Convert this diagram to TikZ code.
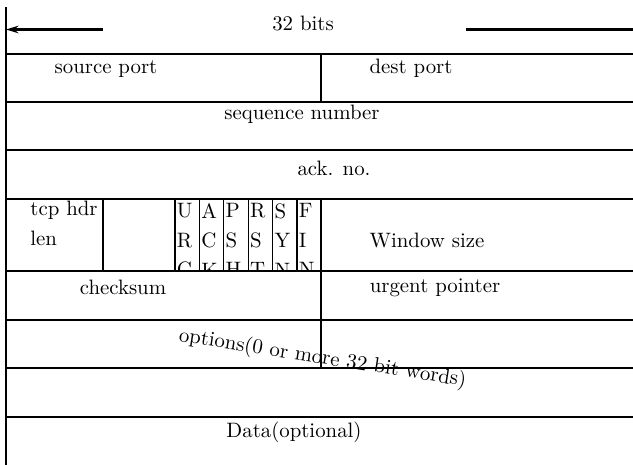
\documentclass[tikz,border=0pt]{standalone}
\usetikzlibrary{arrows.meta}
\tikzset{
  rowrule/.style={line width=1pt},
  colrule/.style={line width=0.8pt},
  flagrule/.style={line width=0.6pt},
  fieldtext/.style={inner sep=0pt, anchor=base},
  stacktext/.style={inner sep=0pt, anchor=north west, align=left,
                    font=\fontsize{10}{14.4}\selectfont},
  arrow/.style={-{Stealth[length=6pt, width=3.6pt]}, line width=1pt}
}
\begin{document}
\begin{tikzpicture}[x=0.48pt, y=-0.48pt]
  \useasboundingbox (0,0) rectangle (633,464);

  % width marker
  \node[fieldtext] (bits) at (303,30) {32 bits};
  \coordinate (lstart) at (103,29.5);
  \coordinate (lend) at (6,29.5);
  \coordinate (rstart) at (466,29.5);
  \coordinate (rend) at (650,29.5);
  \draw[arrow] (lstart) -- (lend);
  \draw[arrow] (rstart) -- (rend);

  % field labels
  \node[fieldtext] (srcport) at (106,73.5) {source port};
  \node[fieldtext] (dstport) at (411,73.5) {dest port};
  \node[fieldtext] (seqno) at (302,119) {sequence number};
  \node[fieldtext] (ackno) at (334,175) {ack. no.};
  \node[stacktext] (hdrlen) at (30,200.5) {tcp hdr\\len};
  \node[fieldtext] (window) at (427,247) {Window size};
  \node[fieldtext] (chksum) at (123,294) {checksum};
  \node[fieldtext] (urgent) at (435,292) {urgent pointer};
  \node[fieldtext, anchor=base west, rotate=-9] (options) at (178,341) {options(0 or more 32 bit words)};
  \node[fieldtext] (data) at (294,437) {Data(optional)};

  % flag bits
  \begin{scope}
    \clip (175,199) rectangle (321,271);
    \foreach \col/\ta/\tb/\tc in {0/U/R/G, 1/A/C/K, 2/P/S/H, 3/R/S/T, 4/S/Y/N, 5/F/I/N}
      \node[stacktext, font=\fontsize{10}{14.2}\selectfont] (flag\col) at (176.5+24.4*\col,203) {\ta\\\tb\\\tc};
  \end{scope}
  \foreach \col in {0,...,5}
    \draw[flagrule] (175+24.4*\col,199) -- (175+24.4*\col,271);

  % rows
  \foreach \y in {54,102,150,199,271,320,368,417}
    \draw[rowrule] (6,\y) -- (640,\y);
  \draw[line width=1.3pt] (6,7) -- (6,470);

  % column dividers
  \draw[colrule] (321,54) -- (321,102);
  \draw[colrule] (103,199) -- (103,271);
  \draw[colrule] (321,199) -- (321,368);
\end{tikzpicture}
\end{document}
